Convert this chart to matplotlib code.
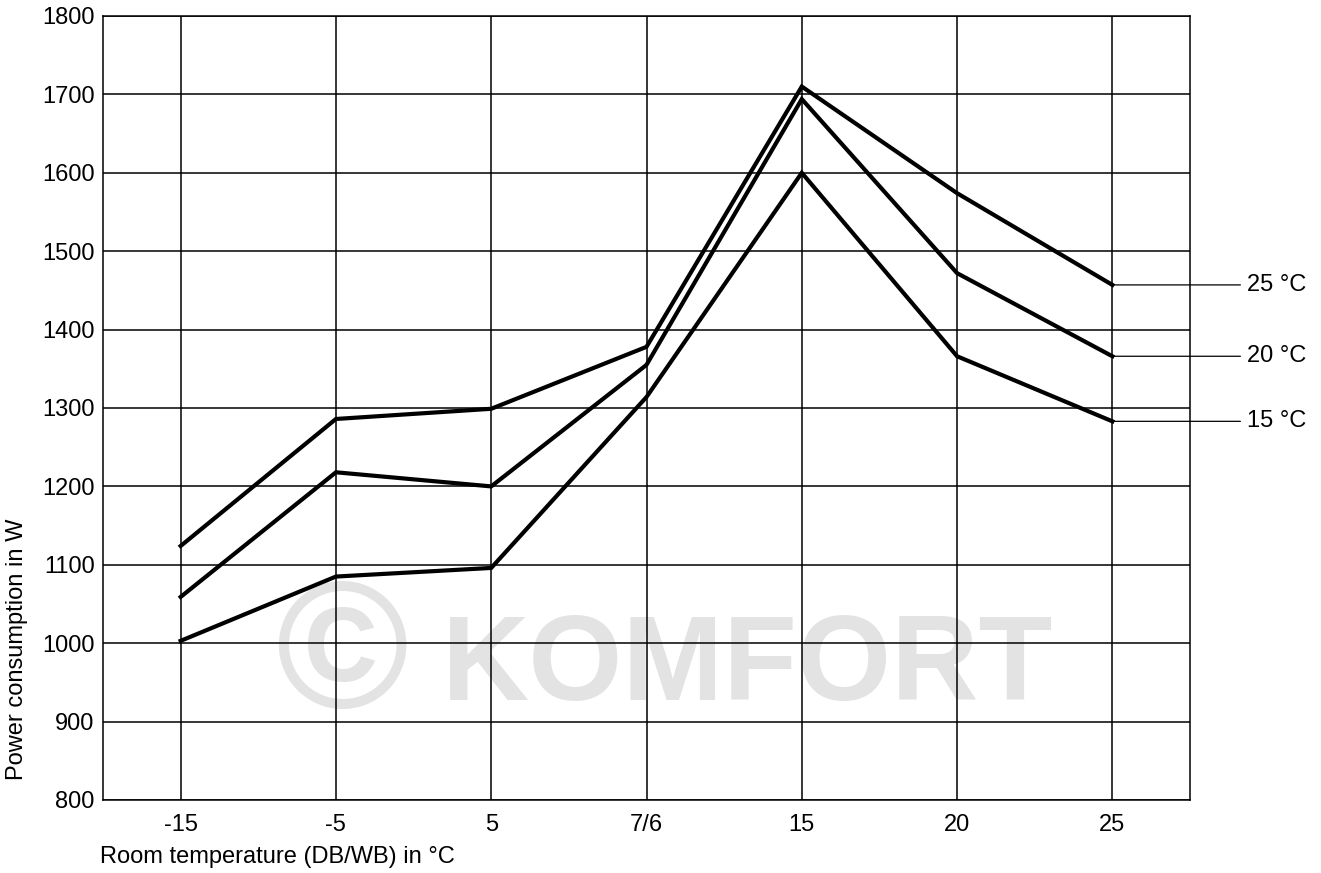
import matplotlib
matplotlib.use("Agg")
import matplotlib.pyplot as plt

categories = ["-15", "-5", "5", "7/6", "15", "20", "25"]
series_labels = ["25 °C", "20 °C", "15 °C"]
power_25 = [1124, 1286, 1299, 1378, 1710, 1574, 1457]
power_20 = [1059, 1218, 1200, 1355, 1694, 1472, 1366]
power_15 = [1003, 1085, 1096, 1314, 1600, 1366, 1283]
y_ticks = [800, 900, 1000, 1100, 1200, 1300, 1400, 1500, 1600, 1700, 1800]

plt.rcParams['font.family'] = ['Liberation Sans', 'DejaVu Sans']
FS = 17

fig = plt.figure(figsize=(13.21, 8.73), dpi=100)
ax = fig.add_axes([103/1321, 1 - 800/873, 1087/1321, 784/873])

x = list(range(len(categories)))

# watermark
wm_color = '#e3e3e3'
ax.text((342 - 103) / 1087, (800 - 708) / 784, "©", transform=ax.transAxes,
        ha='center', va='baseline', fontsize=130, fontweight='bold', color=wm_color, zorder=0)
ax.text((442 - 103) / 1087, (800 - 700) / 784, "KOMFORT", transform=ax.transAxes,
        ha='left', va='baseline', fontsize=87, fontweight='bold', color=wm_color, zorder=0)

ax.set_xlim(-0.5, len(categories) - 0.5)
ax.set_ylim(y_ticks[0], y_ticks[-1])
ax.set_xticks(x)
ax.set_xticklabels(categories)
ax.set_yticks(y_ticks)
ax.grid(True, color='black', linewidth=1.1, zorder=1)
ax.set_axisbelow(False)
ax.tick_params(length=0, labelsize=FS, colors='black')
ax.tick_params(axis='x', pad=10)
ax.tick_params(axis='y', pad=6)
for s in ax.spines.values():
    s.set_linewidth(1.1)
    s.set_color('black')

for vals, lab in zip([power_25, power_20, power_15], series_labels):
    ax.plot(x, vals, color='black', linewidth=3.0, zorder=3, solid_joinstyle='miter')
    ax.annotate(lab, xy=(x[-1], vals[-1]), xytext=(135, 0), textcoords='offset pixels',
                ha='left', va='center', fontsize=FS,
                arrowprops=dict(arrowstyle='-', color='black', lw=0.9,
                                shrinkA=3, shrinkB=0),
                annotation_clip=False)

fig.text(100/1321, 1 - 857/873, "Room temperature (DB/WB) in °C", ha='left', va='center',
         fontsize=FS)
fig.text(17/1321, 1 - 649/873, "Power consumption in W", ha='center', va='center',
         rotation=90, fontsize=FS)

fig.savefig("out.png", dpi=100)
